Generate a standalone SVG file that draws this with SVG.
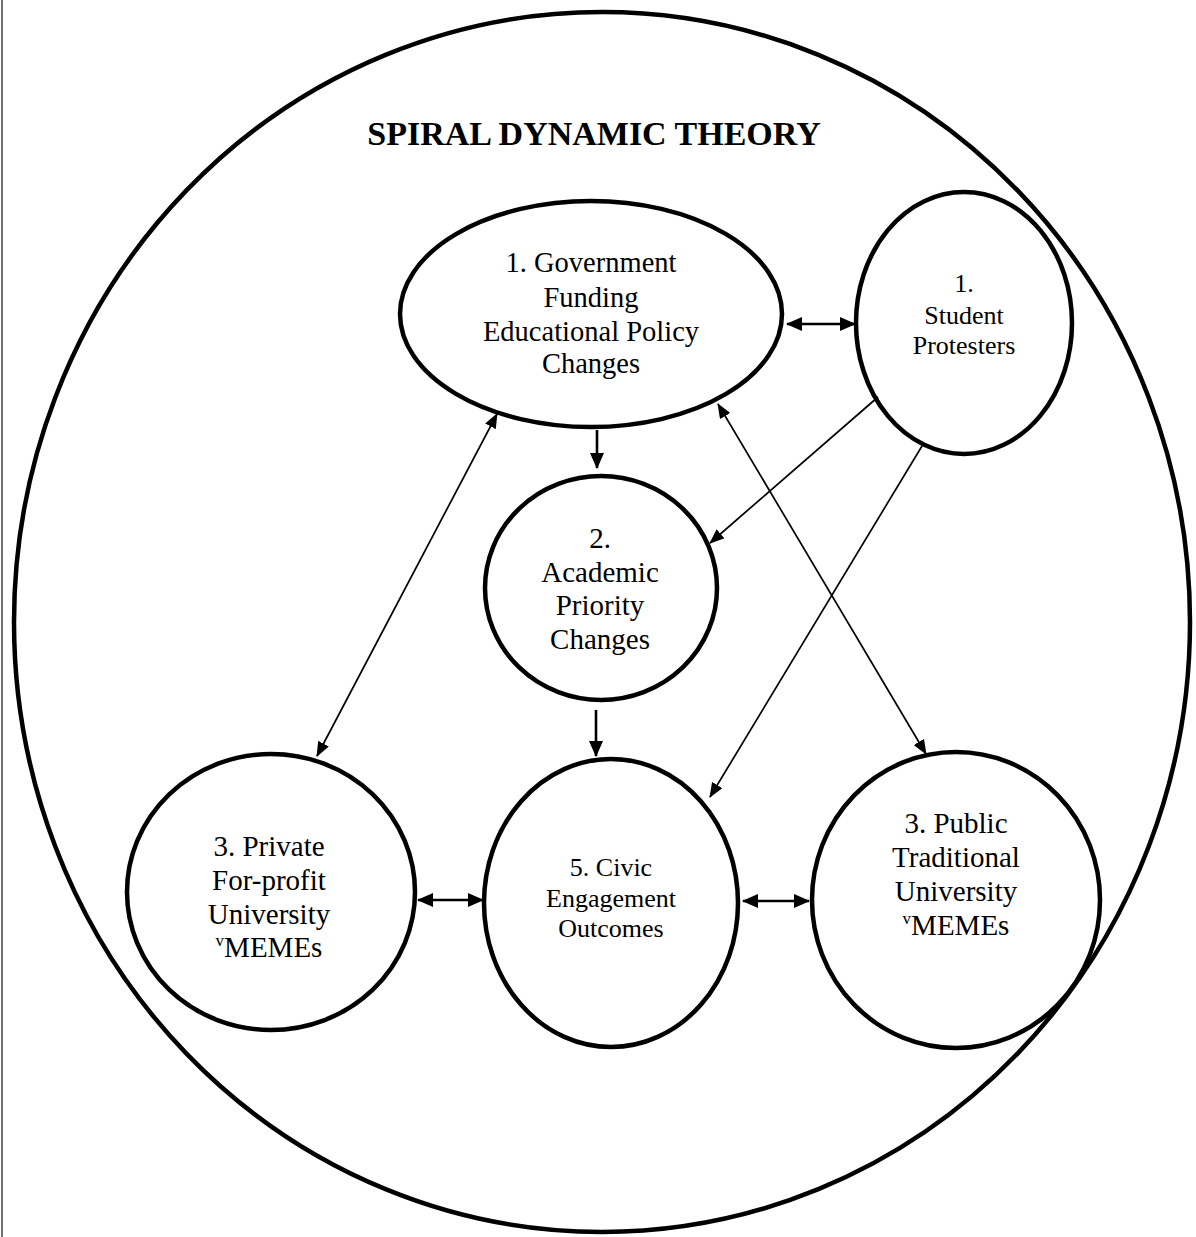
<svg xmlns="http://www.w3.org/2000/svg" width="1196" height="1237" viewBox="0 0 1196 1237">
<style>
.node{fill:none;stroke:#000;stroke-width:4.5}
.t{font-family:"Liberation Serif","Times New Roman",serif;fill:#000;text-anchor:middle}
.thick{stroke:#000;stroke-width:2.6;fill:none}
.thin{stroke:#000;stroke-width:1.7;fill:none}
</style>
<defs>
<marker id="ah" viewBox="0 0 16 14" refX="15" refY="7" markerWidth="16" markerHeight="14" orient="auto-start-reverse" markerUnits="userSpaceOnUse"><path d="M0,0 L16,7 L0,14 z" fill="#000"/></marker>
<marker id="as" viewBox="0 0 15 12" refX="14" refY="6" markerWidth="15" markerHeight="12" orient="auto-start-reverse" markerUnits="userSpaceOnUse"><path d="M0,0 L15,6 L0,12 z" fill="#000"/></marker>
</defs>
<rect width="1196" height="1237" fill="#fff"/>
<line x1="2" y1="0" x2="2" y2="1237" stroke="#707070" stroke-width="2"/>
<g id="outer">
<ellipse cx="602" cy="622" rx="588" ry="610" fill="none" stroke="#000" stroke-width="4.5"/>
<text class="t" x="594" y="145" font-size="34" font-weight="bold">SPIRAL DYNAMIC THEORY</text>
</g>
<g id="connectors">
<line class="thick" x1="787" y1="324" x2="855" y2="324" marker-start="url(#ah)" marker-end="url(#ah)"/>
<line class="thick" x1="597" y1="430" x2="597" y2="468" marker-end="url(#ah)"/>
<line class="thick" x1="596" y1="710" x2="596" y2="756" marker-end="url(#ah)"/>
<line class="thick" x1="418" y1="900" x2="483" y2="900" marker-start="url(#ah)" marker-end="url(#ah)"/>
<line class="thick" x1="743" y1="901" x2="809" y2="901" marker-start="url(#ah)" marker-end="url(#ah)"/>
<line class="thin" x1="317" y1="756" x2="497" y2="414" marker-start="url(#as)" marker-end="url(#as)"/>
<line class="thin" x1="718" y1="404" x2="926" y2="754" marker-start="url(#as)" marker-end="url(#as)"/>
<line class="thin" x1="878" y1="397" x2="710" y2="543" marker-end="url(#as)"/>
<line class="thin" x1="922" y1="446" x2="710" y2="797" marker-end="url(#as)"/>
</g>
<g id="gov">
<ellipse class="node" cx="591" cy="314" rx="191" ry="113"/>
<text class="t" font-size="28.5"><tspan x="591" y="272">1. Government</tspan><tspan x="591" y="307">Funding</tspan><tspan x="591" y="341">Educational Policy</tspan><tspan x="591" y="373">Changes</tspan></text>
</g>
<g id="student">
<ellipse class="node" cx="964" cy="323" rx="108" ry="131"/>
<text class="t" font-size="26"><tspan x="964" y="292">1.</tspan><tspan x="964" y="324">Student</tspan><tspan x="964" y="354">Protesters</tspan></text>
</g>
<g id="academic">
<ellipse class="node" cx="601" cy="588" rx="116" ry="112"/>
<text class="t" font-size="29"><tspan x="600" y="548">2.</tspan><tspan x="600" y="582">Academic</tspan><tspan x="600" y="615">Priority</tspan><tspan x="600" y="649">Changes</tspan></text>
</g>
<g id="civic">
<ellipse class="node" cx="611" cy="903" rx="127" ry="144"/>
<text class="t" font-size="26"><tspan x="611" y="876">5. Civic</tspan><tspan x="611" y="907">Engagement</tspan><tspan x="611" y="937">Outcomes</tspan></text>
</g>
<g id="private">
<ellipse class="node" cx="271" cy="892" rx="144" ry="138"/>
<text class="t" font-size="29"><tspan x="269" y="856">3. Private</tspan><tspan x="269" y="890">For-profit</tspan><tspan x="269" y="924">University</tspan><tspan x="269" y="957"><tspan font-size="17" dy="-11">v</tspan><tspan dy="11">MEMEs</tspan></tspan></text>
</g>
<g id="public">
<ellipse class="node" cx="956" cy="900" rx="144" ry="148"/>
<text class="t" font-size="29"><tspan x="956" y="833">3. Public</tspan><tspan x="956" y="867">Traditional</tspan><tspan x="956" y="901">University</tspan><tspan x="956" y="935"><tspan font-size="17" dy="-11">v</tspan><tspan dy="11">MEMEs</tspan></tspan></text>
</g>
</svg>
